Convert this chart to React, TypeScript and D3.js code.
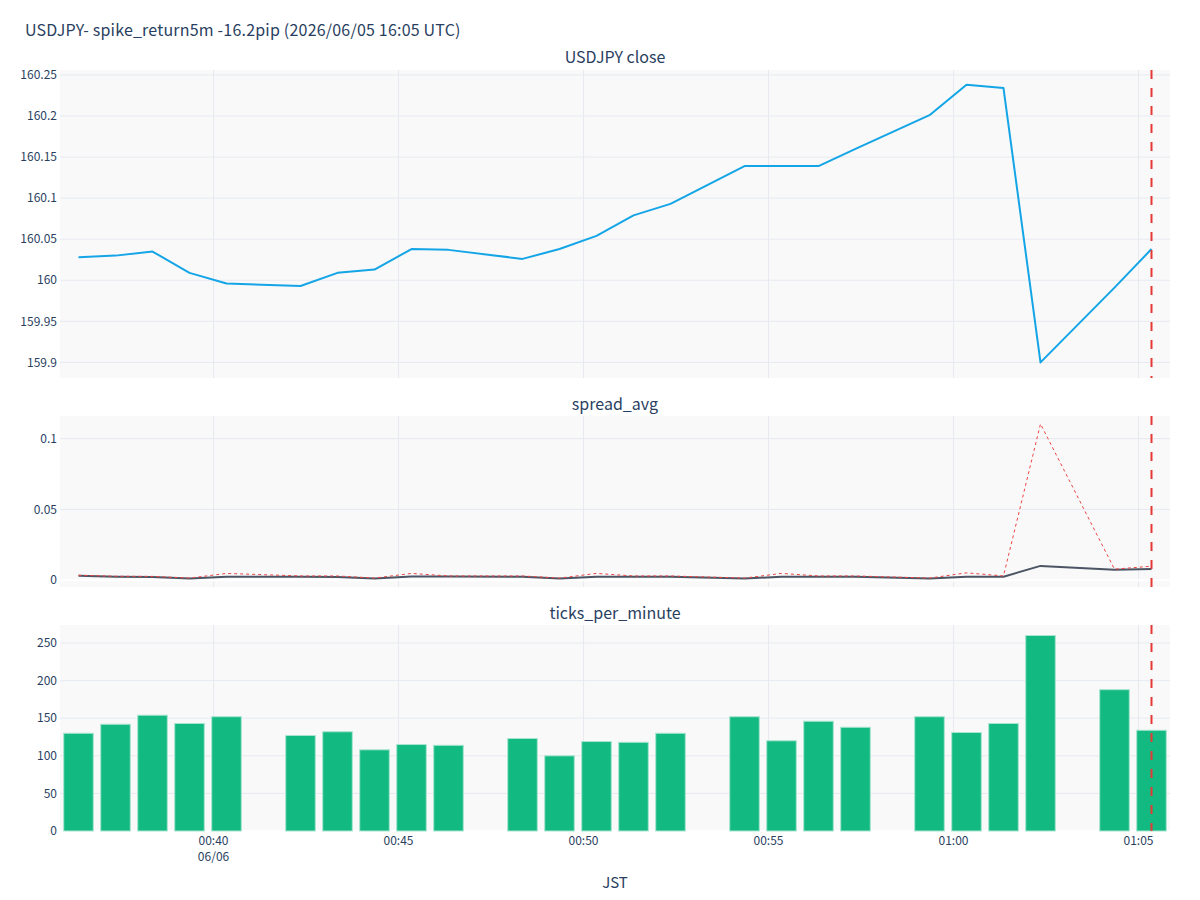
import * as d3 from "d3";

// minute timestamps (JST wall clock), gaps are minutes with no data
const times = [
  "00:36:21", "00:37:21", "00:38:21", "00:39:21", "00:40:21",
  "00:42:21", "00:43:21", "00:44:21", "00:45:21", "00:46:21",
  "00:48:21", "00:49:21", "00:50:21", "00:51:21", "00:52:21",
  "00:54:21", "00:55:21", "00:56:21", "00:57:21",
  "00:59:21", "01:00:21", "01:01:21", "01:02:21",
  "01:04:21", "01:05:21",
];

const closeValues = [
  160.028, 160.03, 160.035, 160.009, 159.996,
  159.993, 160.009, 160.013, 160.038, 160.037,
  160.026, 160.038, 160.054, 160.079, 160.093,
  160.139, 160.139, 160.139, 160.16,
  160.201, 160.238, 160.234, 159.9,
  159.991, 160.038,
];

const spreadAvg = [
  0.0032, 0.0025, 0.0022, 0.0012, 0.0025,
  0.0025, 0.0023, 0.0012, 0.0027, 0.0026,
  0.0025, 0.0012, 0.0025, 0.0025, 0.0025,
  0.0012, 0.0025, 0.0025, 0.0024,
  0.0012, 0.0025, 0.0025, 0.0101,
  0.0074, 0.0079,
];

const spreadMax = [
  0.0035, 0.0028, 0.0027, 0.0015, 0.0048,
  0.003, 0.003, 0.0015, 0.0048, 0.003,
  0.003, 0.0015, 0.0048, 0.003, 0.003,
  0.0015, 0.0048, 0.003, 0.003,
  0.0015, 0.0052, 0.003, 0.1104,
  0.0078, 0.0099,
];

const ticksPerMinute = [
  130, 142, 154, 143, 152,
  127, 132, 108, 115, 114,
  123, 100, 119, 118, 130,
  152, 120, 146, 138,
  152, 131, 143, 260,
  188, 134,
];

const eventTime = "01:05:21";
const xTickTimes = ["00:40", "00:45", "00:50", "00:55", "01:00", "01:05"];
const closeTicks = [159.9, 159.95, 160, 160.05, 160.1, 160.15, 160.2, 160.25];
const spreadTicks = [0, 0.05, 0.1];
const tickTicks = [0, 50, 100, 150, 200, 250];

const title = "USDJPY- spike_return5m -16.2pip (2026/06/05 16:05 UTC)";
const FONT = "'Noto Sans CJK JP', 'Open Sans', sans-serif";
const TEXT = "#2a3f5f";
const GRID = "#e6eaf0";
const BG = "#f9f9fa";

const parse = (t: string) => {
  const [h, m, s] = t.split(":").map(Number);
  return new Date(Date.UTC(2026, 5, 6, h, m, s || 0));
};

export default function App() {
  const left = 60;
  const right = 1170;
  const dates = times.map(parse);
  const x = d3
    .scaleUtc()
    .domain([
      d3.utcSecond.offset(dates[0], -30),
      d3.utcSecond.offset(dates[dates.length - 1], 30),
    ])
    .range([left, right]);

  const panels = {
    close: { top: 70, bottom: 378 },
    spread: { top: 416, bottom: 587 },
    ticks: { top: 625, bottom: 831 },
  };

  const yClose = d3.scaleLinear().domain([159.881, 160.256]).range([panels.close.bottom, panels.close.top]);
  const ySpread = d3.scaleLinear().domain([-0.0048, 0.116]).range([panels.spread.bottom, panels.spread.top]);
  const yTicks = d3.scaleLinear().domain([0, 274]).range([panels.ticks.bottom, panels.ticks.top]);

  const fmt = d3.format("~g");
  const xTicks = xTickTimes.map(parse);
  const slot = x(d3.utcMinute.offset(dates[0], 1)) - x(dates[0]);
  const barW = slot * 0.8;
  const evX = x(parse(eventTime));

  const lineOf = (vals: number[], y: d3.ScaleLinear<number, number>) =>
    d3
      .line<number>()
      .x((_, i) => x(dates[i]))
      .y((d) => y(d))(vals)!;

  const panelFrame = (
    key: string,
    p: { top: number; bottom: number },
    y: d3.ScaleLinear<number, number>,
    ticks: number[],
    zeroLine: boolean
  ) => (
    <g key={key}>
      <rect x={left} y={p.top} width={right - left} height={p.bottom - p.top} fill={BG} />
      {xTicks.map((t, i) => (
        <line key={i} x1={x(t)} x2={x(t)} y1={p.top} y2={p.bottom} stroke={GRID} strokeWidth={1} />
      ))}
      {ticks.map((t, i) => (
        <g key={i}>
          {!(zeroLine && t === 0) && (
            <line x1={left} x2={right} y1={y(t)} y2={y(t)} stroke={GRID} strokeWidth={1} />
          )}
          <text x={left - 3} y={y(t)} dy="0.35em" textAnchor="end" fontSize={12} fill={TEXT}>
            {fmt(t)}
          </text>
        </g>
      ))}
      {zeroLine && (
        <line x1={left} x2={right} y1={y(0)} y2={y(0)} stroke="#ffffff" strokeWidth={2} />
      )}
    </g>
  );

  const eventLine = (p: { top: number; bottom: number }, k: string) => (
    <line key={k} x1={evX} x2={evX} y1={p.top} y2={p.bottom} stroke="#e53935" strokeWidth={2} strokeDasharray="9,9" />
  );

  const cx = (left + right) / 2;

  return (
    <div style={{ position: "absolute", left: 0, top: 0 }}>
      <svg width={1200} height={900} fontFamily={FONT} style={{ display: "block", background: "#fff" }}>
        <text x={25} y={36} fontSize={16} letterSpacing={0.2} fill={TEXT}>{title}</text>

        <text x={cx} y={63} textAnchor="middle" fontSize={16} fill={TEXT}>USDJPY close</text>
        <text x={cx} y={410} textAnchor="middle" fontSize={16} fill={TEXT}>spread_avg</text>
        <text x={cx} y={619} textAnchor="middle" fontSize={16} fill={TEXT}>ticks_per_minute</text>

        {panelFrame("c", panels.close, yClose, closeTicks, false)}
        {panelFrame("s", panels.spread, ySpread, spreadTicks, true)}
        {panelFrame("t", panels.ticks, yTicks, tickTicks, true)}

        <path d={lineOf(closeValues, yClose)} fill="none" stroke="#14a5e6" strokeWidth={2} strokeLinejoin="round" />

        <path d={lineOf(spreadAvg, ySpread)} fill="none" stroke="#4b5563" strokeWidth={2} strokeLinejoin="round" />
        <path d={lineOf(spreadMax, ySpread)} fill="none" stroke="#ef4444" strokeWidth={1} strokeDasharray="3,3" />

        {ticksPerMinute.map((v, i) => (
          <rect
            key={i}
            x={x(dates[i]) - barW / 2}
            y={yTicks(v)}
            width={barW}
            height={yTicks(0) - yTicks(v)}
            fill="#12b981"
            stroke="#a9e5cf"
            strokeWidth={1}
          />
        ))}

        {eventLine(panels.close, "e1")}
        {eventLine(panels.spread, "e2")}
        {eventLine(panels.ticks, "e3")}

        {xTicks.map((t, i) => (
          <g key={i}>
            <text x={x(t)} y={845} textAnchor="middle" fontSize={12} fill={TEXT}>
              {d3.utcFormat("%H:%M")(t)}
            </text>
            {i === 0 && (
              <text x={x(t)} y={861} textAnchor="middle" fontSize={12} fill={TEXT}>
                {d3.utcFormat("%m/%d")(t)}
              </text>
            )}
          </g>
        ))}
        <text x={cx} y={888} textAnchor="middle" fontSize={15} fill={TEXT}>JST</text>
      </svg>
    </div>
  );
}
